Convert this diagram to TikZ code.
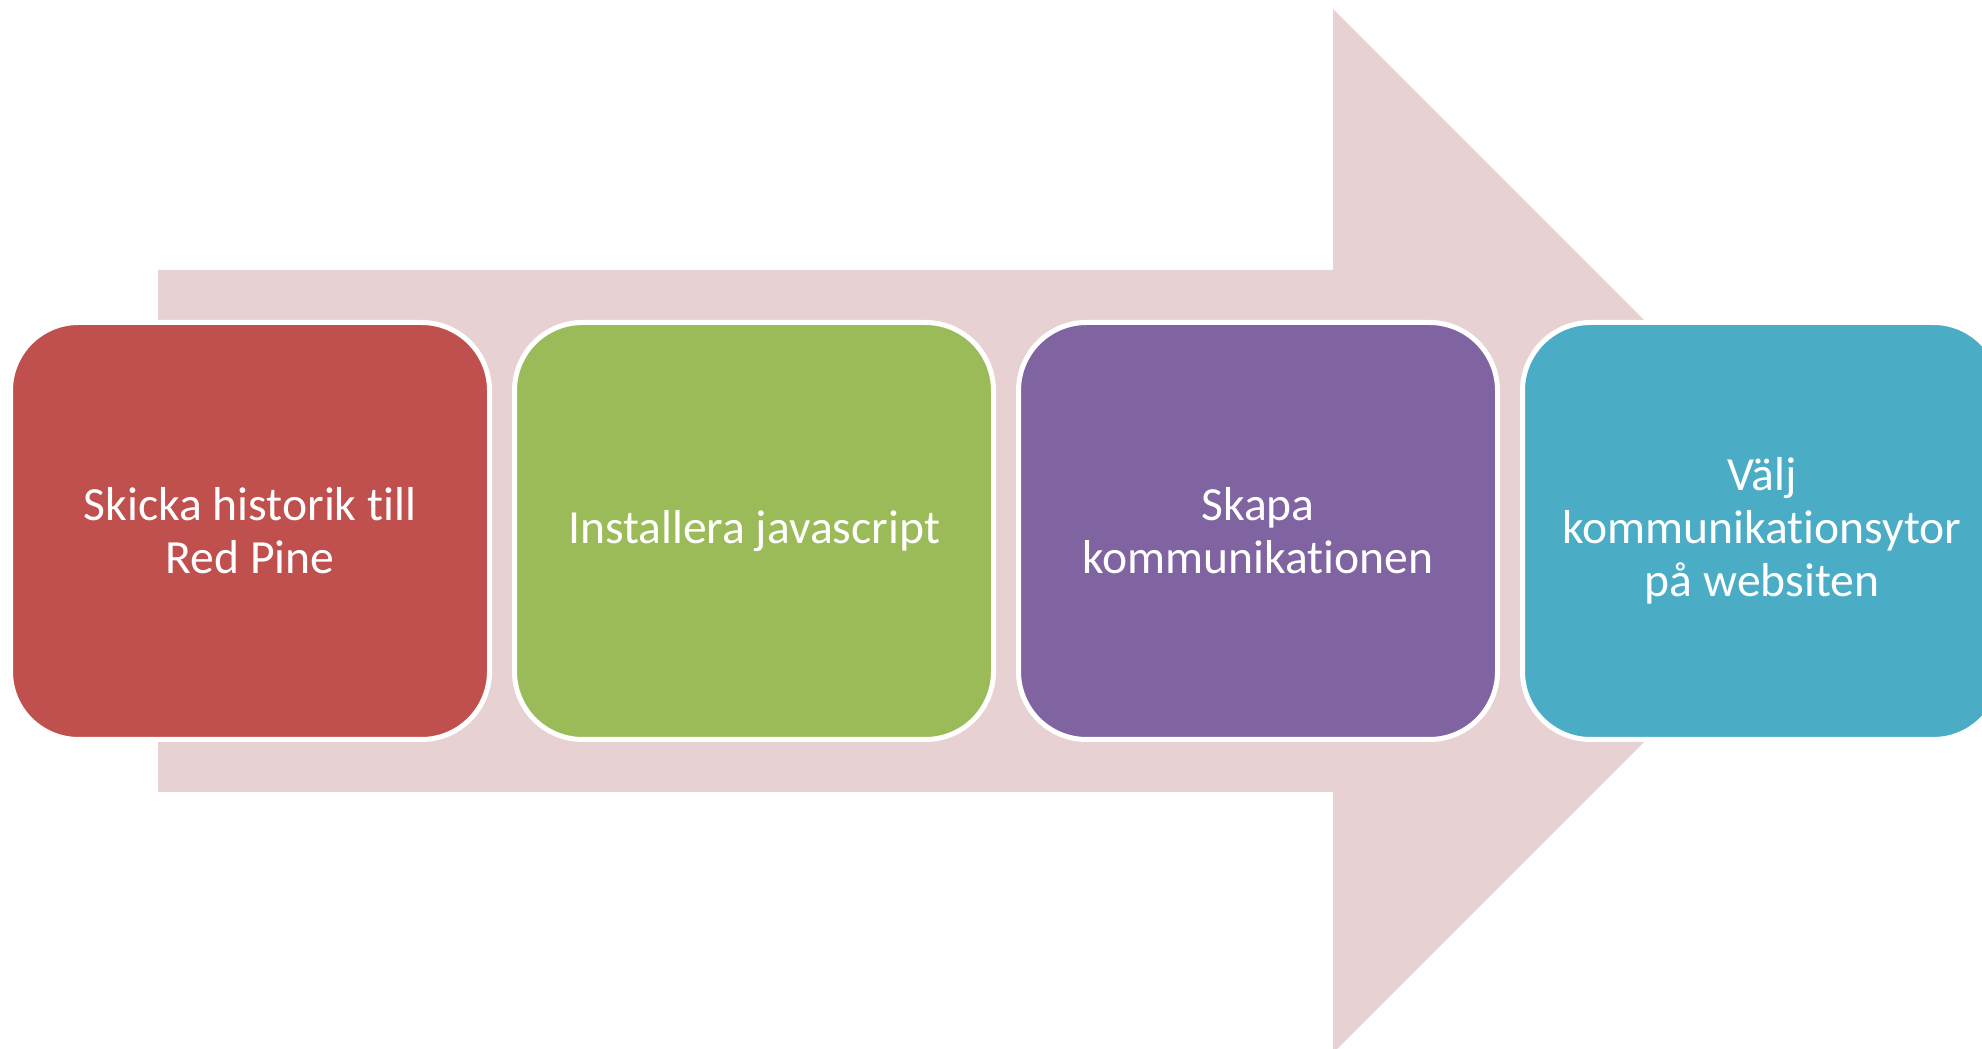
\documentclass[tikz,border=0pt]{standalone}
\usepackage{xcolor}
\usepackage{fontspec}
\setmainfont{Carlito}[Ligatures=NoCommon]
\usetikzlibrary{positioning}

\begin{document}
\begin{tikzpicture}
% Define colours
\definecolor{arrowcol}{RGB}{232,209,210}  % Pale pink
\definecolor{histcol}{RGB}{192,80,77}     % Red
\definecolor{jscol}{RGB}{155,187,89}      % Olive green
\definecolor{skapacol}{RGB}{128,100,162}  % Purple
\definecolor{valjcol}{RGB}{75,172,198}    % Aqua

% Size of each stage box
\newlength{\stagewidth}
\setlength{\stagewidth}{239.5pt}
\newlength{\stageheight}
\setlength{\stageheight}{208.5pt}

\tikzset{stage/.style={rounded corners=34pt, draw=white, line width=2.5pt,
    minimum width=\stagewidth, minimum height=\stageheight, outer sep=0pt,
    text=white, align=center, font=\fontsize{23.8}{26.4}\selectfont}}

% Page size
\useasboundingbox (0,0) rectangle (991pt,524.5pt);

% Big arrow behind the stages
\fill[arrowcol] (79pt,128.5pt) -- (79pt,389.5pt) -- (666.5pt,389.5pt) -- (666.5pt,520pt)
  -- (927.5pt,259pt) -- (666.5pt,-2pt) -- (666.5pt,128.5pt) -- cycle;

% Stages
\node[stage, fill=histcol] (hist) at (125pt,259pt) {Skicka historik till\\Red Pine};
\node[stage, fill=jscol, right=12.5pt of hist] (js) {Installera javascript};
\node[stage, fill=skapacol, right=12.5pt of js] (skapa) {Skapa\\kommunikationen};
\node[stage, fill=valjcol, right=12.5pt of skapa] (valj) {Välj\\kommunikationsytor\\på websiten};
\end{tikzpicture}
\end{document}
